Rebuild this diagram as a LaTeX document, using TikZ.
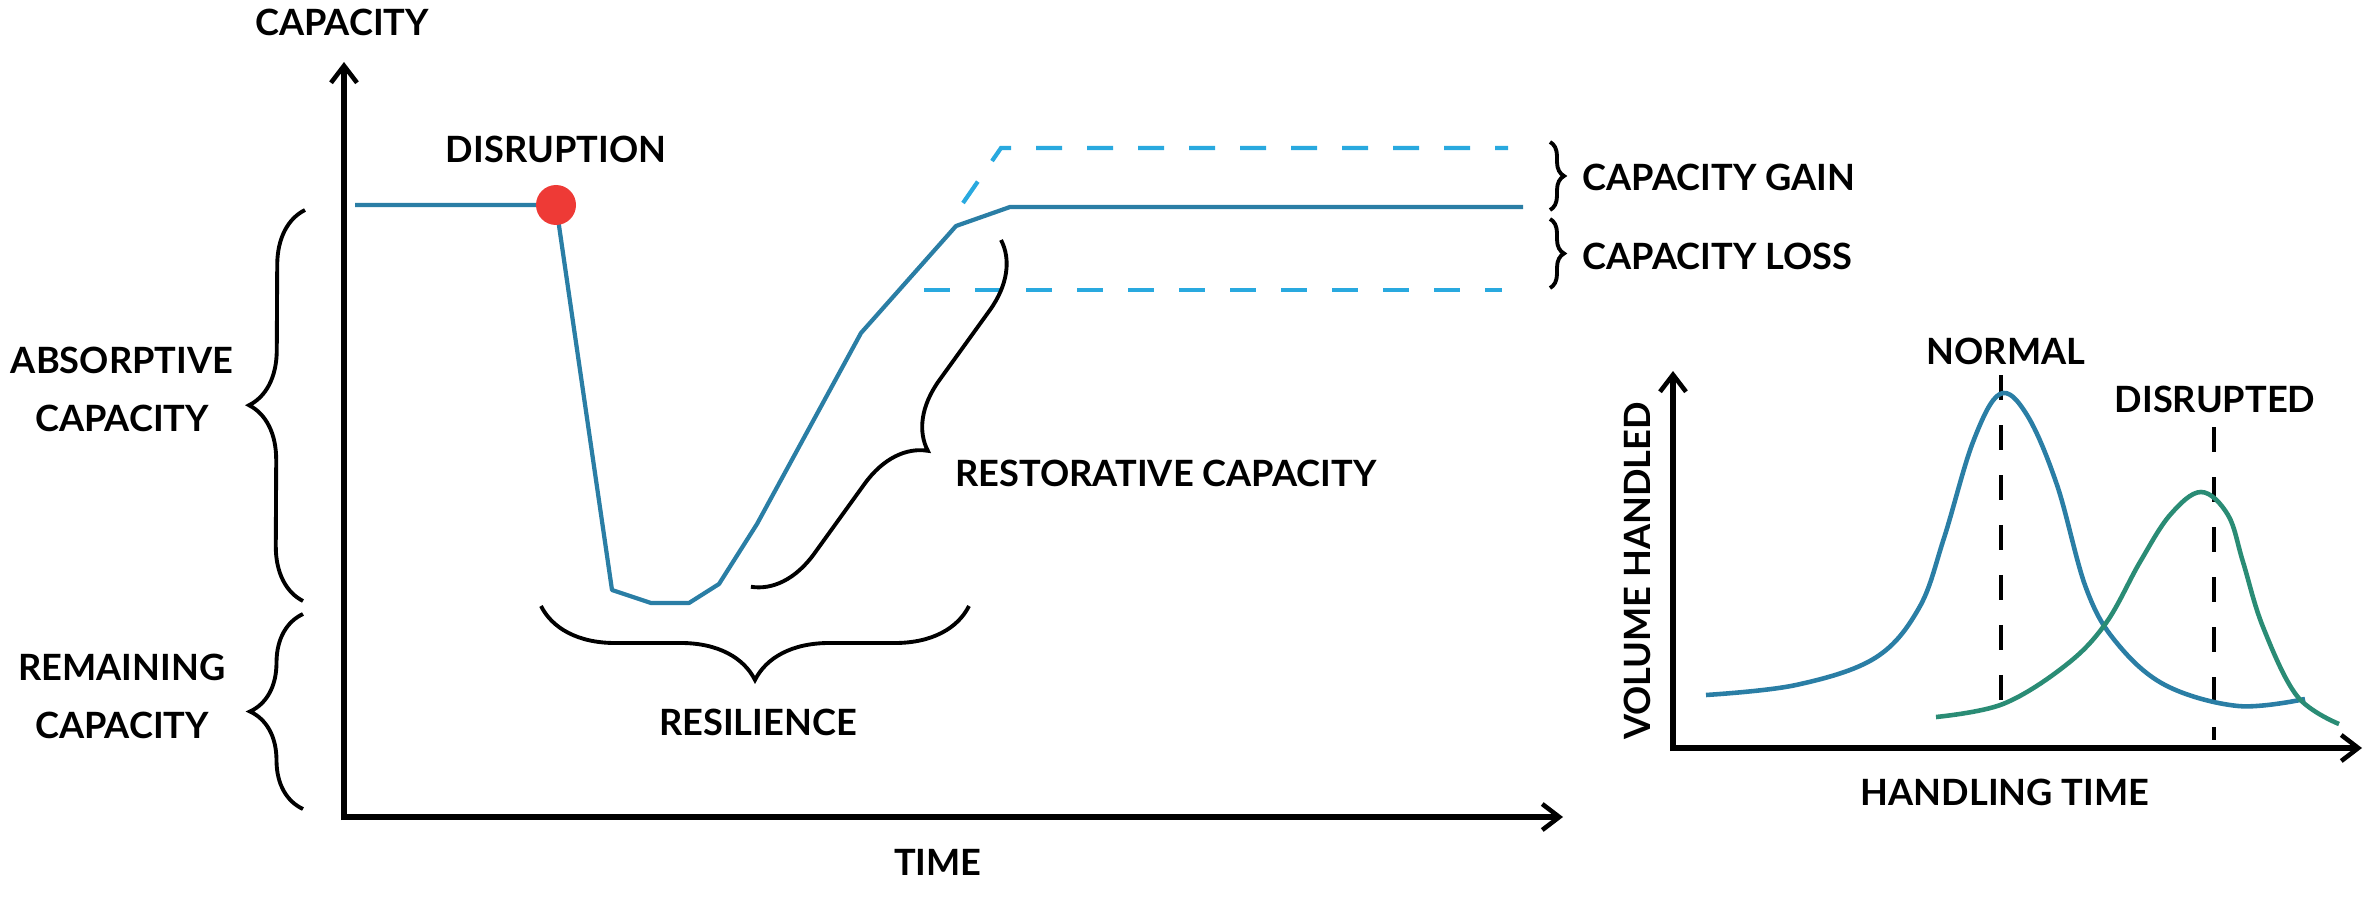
\documentclass[tikz,border=0pt]{standalone}
\usepackage{fontspec}
\setmainfont{Lato}
\usetikzlibrary{arrows.meta,decorations.pathreplacing}
\definecolor{cblue}{HTML}{2A7EA5}
\definecolor{clight}{HTML}{29A9DF}
\definecolor{cred}{HTML}{EE3A36}
\definecolor{cgreen}{HTML}{2A8C75}
\tikzset{
  lbl/.style={font=\bfseries\fontsize{10.3pt}{16.5pt}\selectfont, inner sep=0pt, align=center},
  axis/.style={line width=1.5pt, -{Straight Barb[length=1.7mm,width=2.6mm,line width=1.3pt]}},
  curve/.style={line width=1.2pt, cblue, line join=round},
  dashline/.style={line width=1.2pt, clight, dash pattern=on 2.6mm off 2.5mm},
  vdash/.style={line width=1.1pt, black, dash pattern=on 2.5mm off 2.5mm},
  bracedeco/.style={line width=1.1pt, decorate, decoration={brace, amplitude=#1}},
}
\begin{document}
\begin{tikzpicture}[x=0.1mm,y=-0.1mm]
\useasboundingbox (0,0) rectangle (2370,903);
% ---------- left chart ----------
\coordinate (yo) at (344,817);
\coordinate (ytop) at (344,62);
\coordinate (xend) at (1563,817);
\draw[axis] (344,820) -- (ytop);
\draw[axis] (341,817) -- (xend);
\node[lbl] (lcap) at (342,22) {CAPACITY};
\node[lbl] (ltime) at (938,862) {TIME};
\node[lbl] (ldis) at (556,149) {DISRUPTION};
% main curve
\coordinate (p0) at (355,205);
\coordinate (pd) at (556,205);
\draw[curve] (p0) -- (pd) -- (612,590) -- (651,603) -- (689,603) -- (719,584) -- (757,524) -- (861,333) -- (956,226) -- (1010,207) -- (1523,207);
\node[circle, fill=cred, minimum size=4mm, inner sep=0pt] (dot) at (pd) {};
% dashed lines
\draw[dashline] (963,203) -- (1001,148) -- (1508,148);
\draw[dashline] (924,290) -- (1502,290);
% braces
\draw[bracedeco=5.5mm] (303,601) -- (305,210);
\draw[bracedeco=5.3mm] (303,809) -- (303,614);
\draw[bracedeco=7.4mm] (969,606) -- (541,606);
\draw[bracedeco=6.4mm] (1001,240) -- (750,588);
\draw[bracedeco=1.4mm] (1550,142) -- (1550,210);
\draw[bracedeco=1.4mm] (1550,219) -- (1550,288);
% labels
\node[lbl] (labs) at (122,389) {ABSORPTIVE\\CAPACITY};
\node[lbl] (lrem) at (122,696) {REMAINING\\CAPACITY};
\node[lbl] (lres) at (758,722) {RESILIENCE};
\node[lbl] (lrest) at (1166,473) {RESTORATIVE CAPACITY};
\node[lbl, anchor=west] (lgain) at (1582,177) {CAPACITY GAIN};
\node[lbl, anchor=west] (lloss) at (1582,256) {CAPACITY LOSS};
% ---------- right chart ----------
\coordinate (ryo) at (1673,748);
\draw[axis] (1673,751) -- (1673,371);
\draw[axis] (1670,748) -- (2362,748);
\node[lbl, rotate=90] (rvol) at (1637,571) {VOLUME HANDLED};
\node[lbl] (rht) at (2005,792) {HANDLING TIME};
\node[lbl] (rnorm) at (2006,351) {NORMAL};
\node[lbl] (rdis) at (2215,399) {DISRUPTED};
\draw[vdash] (2001,375) -- (2001,702);
\draw[vdash] (2214,427) -- (2214,740);
\draw[curve, line width=1.3pt] plot[smooth, tension=0.6] coordinates {(1706,695) (1796,685) (1875,658) (1919,608) (1944,538) (1973,442) (2000,394) (2027,415) (2057,485) (2086,588) (2116,642) (2165,685) (2238,706) (2305,699)};
\draw[curve, cgreen, line width=1.3pt] plot[smooth, tension=0.6] coordinates {(1936,717) (2003,704) (2066,665) (2106,623) (2140,562) (2170,515) (2201,492) (2228,515) (2243,562) (2263,627) (2297,696) (2339,724)};
\end{tikzpicture}
\end{document}
